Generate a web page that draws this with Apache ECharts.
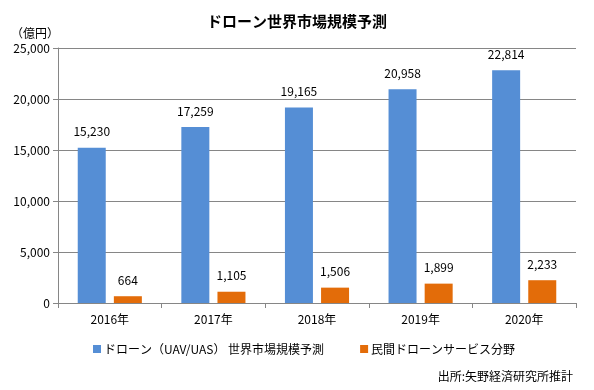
<!DOCTYPE html>
<html><head><meta charset="utf-8">
<script src="https://cdn.jsdelivr.net/npm/echarts@6/dist/echarts.min.js"></script>
<style>html,body{margin:0;padding:0;background:#fff}#c{width:594px;height:390px}</style>
</head><body><div id="c"></div>
<script>
const categories = ['2016年','2017年','2018年','2019年','2020年'];
const droneMarket = [15230, 17259, 19165, 20958, 22814];
const civilService = [664, 1105, 1506, 1899, 2233];
const seriesNames = ['ドローン（UAV/UAS） 世界市場規模予測', '民間ドローンサービス分野'];
const yTicks = {min: 0, max: 25000, interval: 5000};

const font = '"Noto Sans CJK JP", "Noto Sans", sans-serif';
const chart = echarts.init(document.getElementById('c'));
const fmt = v => v.toLocaleString('en-US');
chart.setOption({
  animation: false,
  textStyle: {fontFamily: font},
  title: [
    {text: 'ドローン世界市場規模予測', left: 'center', top: 9,
     textStyle: {fontSize: 15, fontWeight: 'bold', color: '#000', fontFamily: font}},
    {text: '（億円）', left: 6, top: 22,
     textStyle: {fontSize: 12, fontWeight: 'normal', color: '#000', fontFamily: font}},
    {text: '出所:矢野経済研究所推計', right: 16, top: 365,
     textStyle: {fontSize: 12, fontWeight: 'normal', color: '#000', fontFamily: font}}
  ],
  legend: {
    data: seriesNames, bottom: 30, left: 88, itemGap: 36,
    icon: 'rect', itemWidth: 8, itemHeight: 8,
    textStyle: {fontSize: 12, color: '#000', fontFamily: font, padding: [0, 0, 0, -2]}
  },
  grid: {left: 58, right: 18, top: 48, bottom: 87},
  xAxis: {
    type: 'category', data: categories,
    axisLine: {lineStyle: {color: '#868686'}},
    axisTick: {show: true, length: 5, lineStyle: {color: '#868686'}},
    axisLabel: {color: '#000', fontSize: 12, margin: 10}
  },
  yAxis: {
    type: 'value', min: yTicks.min, max: yTicks.max, interval: yTicks.interval,
    axisLine: {show: true, lineStyle: {color: '#868686'}},
    axisTick: {show: true, length: 5, lineStyle: {color: '#868686'}},
    splitLine: {lineStyle: {color: '#868686'}},
    axisLabel: {color: '#000', fontSize: 12, formatter: fmt, margin: 8}
  },
  series: [
    {name: seriesNames[0], type: 'bar', data: droneMarket, barWidth: 28, barGap: '29%',
     itemStyle: {color: '#558ED5'},
     label: {show: true, position: 'top', distance: 10, color: '#000', fontSize: 12, formatter: p => fmt(p.value)}},
    {name: seriesNames[1], type: 'bar', data: civilService, barWidth: 28,
     itemStyle: {color: '#E36C09'},
     label: {show: true, position: 'top', distance: 10, color: '#000', fontSize: 12, formatter: p => fmt(p.value)}}
  ]
});
</script></body></html>
